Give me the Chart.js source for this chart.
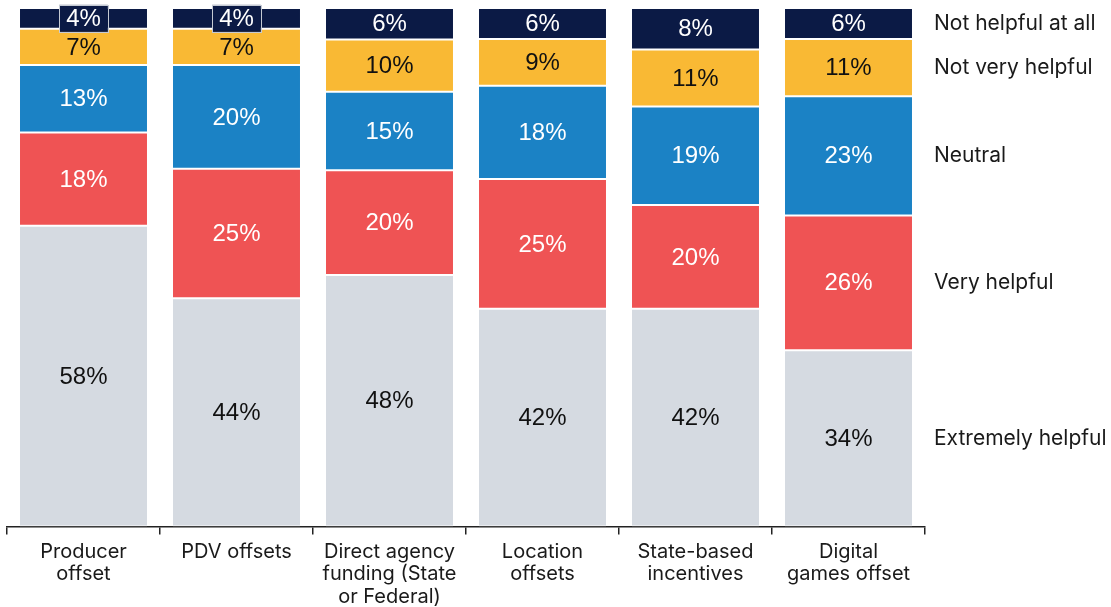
<!DOCTYPE html>
<html>
<head>
<meta charset="utf-8">
<script src="https://cdn.jsdelivr.net/npm/chart.js@4/dist/chart.umd.min.js"></script>
<style>
  html, body { margin: 0; padding: 0; background: #ffffff; overflow: hidden; }
  #wrap { width: 1111px; height: 607px; position: relative; overflow: hidden; }
</style>
</head>
<body>
<div id="wrap"><canvas id="c" width="1111" height="614"></canvas></div>
<script>
const categories = [
  ['Producer', 'offset'],
  ['PDV offsets'],
  ['Direct agency', 'funding (State', 'or Federal)'],
  ['Location', 'offsets'],
  ['State-based', 'incentives'],
  ['Digital', 'games offset']
];
const seriesNames = ['Extremely helpful', 'Very helpful', 'Neutral', 'Not very helpful', 'Not helpful at all'];
const extremelyHelpful = [58, 44, 48, 42, 42, 34];
const veryHelpful      = [18, 25, 20, 25, 20, 26];
const neutral          = [13, 20, 15, 18, 19, 23];
const notVeryHelpful   = [7, 7, 10, 9, 11, 11];
const notHelpfulAtAll  = [4, 4, 6, 6, 8, 6];

const seriesValues = [extremelyHelpful, veryHelpful, neutral, notVeryHelpful, notHelpfulAtAll];
const seriesColors = ['#d5dae1', '#ef5354', '#1b82c5', '#f9b934', '#0b1a45'];
const labelColors  = ['#111111', '#ffffff', '#ffffff', '#111111', '#ffffff'];

// 100% stacked: each bar scaled to its own total
const totals = categories.map((_, i) => seriesValues.reduce((s, arr) => s + arr[i], 0));

const datasets = seriesValues.map((vals, k) => ({
  label: seriesNames[k],
  data: vals.map((v, i) => v / totals[i] * 100),
  rawValues: vals,
  backgroundColor: seriesColors[k],
  borderColor: '#ffffff',
  borderWidth: { top: 1, bottom: 1, left: 0, right: 0 },
  borderSkipped: false,
  barPercentage: 0.83,
  categoryPercentage: 1.0
}));

const labelPlugin = {
  id: 'segLabels',
  afterDatasetsDraw(chart) {
    const ctx = chart.ctx;
    ctx.save();
    chart.data.datasets.forEach((ds, k) => {
      const meta = chart.getDatasetMeta(k);
      meta.data.forEach((bar, i) => {
        const top = Math.min(bar.y, bar.base);
        const bot = Math.max(bar.y, bar.base);
        const cy = (top + bot) / 2;
        const txt = ds.rawValues[i] + '%';
        ctx.font = '24px "Liberation Sans", Arial, sans-serif';
        ctx.textAlign = 'center';
        ctx.textBaseline = 'middle';
        if (bot - top < 26) {
          const w = ctx.measureText(txt).width + 14;
          const h = 27;
          ctx.fillStyle = seriesColors[k];
          ctx.fillRect(bar.x - w / 2, cy - h / 2, w, h);
          ctx.strokeStyle = '#c5cad3';
          ctx.lineWidth = 1;
          ctx.strokeRect(Math.round(bar.x - w / 2) + 0.5, Math.round(cy - h / 2) + 0.5, Math.round(w), h);
        }
        ctx.fillStyle = labelColors[k];
        ctx.fillText(txt, bar.x, cy + 1);
      });
    });
    // series names at right, aligned with last bar's segments
    const area = chart.chartArea;
    ctx.font = '21px Inter, "Noto Sans", sans-serif';
    ctx.textAlign = 'left';
    ctx.textBaseline = 'middle';
    ctx.fillStyle = '#1a1a1a';
    chart.data.datasets.forEach((ds, k) => {
      const meta = chart.getDatasetMeta(k);
      const bar = meta.data[meta.data.length - 1];
      const cy = (bar.y + bar.base) / 2;
      ctx.fillText(ds.label, area.right + 9, cy);
    });
    ctx.restore();
  }
};

new Chart(document.getElementById('c'), {
  type: 'bar',
  data: { labels: categories, datasets },
  options: {
    responsive: false,
    animation: false,
    layout: { padding: { left: 7, right: 186, top: 8, bottom: 0 } },
    plugins: { legend: { display: false }, tooltip: { enabled: false } },
    scales: {
      x: {
        stacked: true,
        grid: { offset: true, drawOnChartArea: false, drawTicks: true, tickLength: 8, color: '#222222', lineWidth: 1.5 },
        border: { display: true, color: '#222222', width: 1.5 },
        ticks: {
          color: '#1a1a1a',
          font: { family: 'Inter, "Noto Sans", sans-serif', size: 20, lineHeight: 1.125 },
          padding: 6,
          maxRotation: 0,
          autoSkip: false
        }
      },
      y: {
        stacked: true,
        display: false,
        min: 0,
        max: 100
      }
    }
  },
  plugins: [labelPlugin]
});
</script>
</body>
</html>
